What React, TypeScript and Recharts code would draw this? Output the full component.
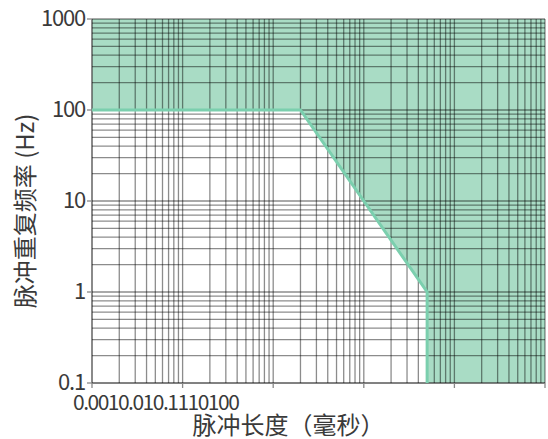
import React from 'react';
import { ComposedChart, Area, Line, XAxis, YAxis, CartesianGrid } from 'recharts';

// decade ticks and their labels
const xMajor = [0.001, 0.01, 0.1, 1, 10, 100];
const xTickLabels = ['0.001', '0.01', '0.1', '1', '10', '100'];
const yMajor = [0.1, 1, 10, 100, 1000];
const yTickLabels = ['0.1', '1', '10', '100', '1000'];

// boundary of the allowed (green) region
const pulseLength = [0.001, 0.2, 5, 5, 100];
const minRate = [100, 100, 1, 0.1, 0.1];
const boundary = [100, 100, 1, 0.1, null];
const maxRate = [1000, 1000, 1000, 1000, 1000];

// log grid lines: 1..9 in every decade
const minorSteps = [1, 2, 3, 4, 5, 6, 7, 8, 9];
const xGrid = xMajor
  .flatMap(d => minorSteps.map(m => +(m * d).toPrecision(3)))
  .filter(v => v <= 100);
const yGrid = yMajor
  .flatMap(d => minorSteps.map(m => +(m * d).toPrecision(3)))
  .filter(v => v <= 1000);

const rows = pulseLength.map((x, i) => ({
  x,
  band: [minRate[i], maxRate[i]],
  edge: boundary[i],
}));

const FONT = '"Noto Sans CJK SC", "Noto Sans", sans-serif';
const TEXT = '#3a3a3a';
const AXIS = '#888';
const TICK_SIZE = 5;
const TICK_MARGIN = 2;

const majorIndex = (list: number[], v: number) => list.findIndex(m => Math.abs(m - v) / m < 1e-6);

const XTick = (props: any) => {
  const { x, y, payload } = props;
  const i = majorIndex(xMajor, payload.value);
  if (i < 0) return null;
  const axisY = y - TICK_SIZE - TICK_MARGIN;
  return (
    <g>
      <line x1={x} x2={x} y1={axisY} y2={axisY + TICK_SIZE} stroke={AXIS} strokeWidth={1.3} />
      {i === 0 && (
        <text
          x={x - 19}
          y={y}
          dy={20}
          textAnchor="start"
          fill={TEXT}
          fontSize={21}
          letterSpacing={-1.5}
          fontFamily={FONT}
        >
          {xTickLabels.join('')}
        </text>
      )}
    </g>
  );
};

const YTick = (props: any) => {
  const { x, y, payload } = props;
  const i = majorIndex(yMajor, payload.value);
  if (i < 0) return null;
  const axisX = x + TICK_SIZE + TICK_MARGIN;
  return (
    <g>
      <line x1={axisX - TICK_SIZE} x2={axisX} y1={y} y2={y} stroke={AXIS} strokeWidth={1.3} />
      <text
        x={x}
        y={y}
        dy="0.3em"
        textAnchor="end"
        fill={TEXT}
        fontSize={22}
        letterSpacing={-1.2}
        fontFamily={FONT}
      >
        {yTickLabels[i]}
      </text>
    </g>
  );
};

const YTitle = (props: any) => {
  const { viewBox } = props;
  const cy = viewBox.y + viewBox.height / 2 + 10;
  const cx = 23;
  return (
    <text
      x={cx}
      y={cy}
      transform={`rotate(-90 ${cx} ${cy})`}
      textAnchor="middle"
      dominantBaseline="central"
      fill={TEXT}
      fontSize={24}
      fontFamily={FONT}
    >
      脉冲重复频率 (Hz)
    </text>
  );
};

const XTitle = (props: any) => {
  const { viewBox } = props;
  const cx = viewBox.x + viewBox.width / 2 - 30;
  return (
    <text x={cx} y={434} textAnchor="middle" fill={TEXT} fontSize={24} fontFamily={FONT}>
      脉冲长度（毫秒）
    </text>
  );
};

export default function App() {
  return (
    <div style={{ position: 'fixed', left: 0, top: 0, background: '#fff', fontFamily: FONT }}>
      <ComposedChart width={548} height={439} data={rows} margin={{ top: 19, right: 3, bottom: 0, left: 0 }}>
        <XAxis
          type="number"
          dataKey="x"
          scale="log"
          domain={[0.001, 100]}
          ticks={xGrid}
          allowDataOverflow
          height={56}
          tickSize={TICK_SIZE}
          tickMargin={TICK_MARGIN}
          tickLine={false}
          stroke={AXIS}
          tick={<XTick />}
          interval={0}
          label={<XTitle />}
        />
        <YAxis
          type="number"
          scale="log"
          domain={[0.1, 1000]}
          ticks={yGrid}
          allowDataOverflow
          width={92}
          tickSize={TICK_SIZE}
          tickMargin={TICK_MARGIN}
          tickLine={false}
          stroke={AXIS}
          tick={<YTick />}
          interval={0}
          label={<YTitle />}
        />

        <Area
          type="linear"
          dataKey="band"
          stroke="none"
          fill="#a9dcc5"
          fillOpacity={1}
          isAnimationActive={false}
        />
        {/* grid sits above the green fill, translucent so it darkens it */}
        <CartesianGrid stroke="#000" strokeOpacity={0.45} strokeWidth={1.3} zIndex={500} />
        <Line
          type="linear"
          dataKey="edge"
          stroke="#7bcfae"
          strokeWidth={3}
          dot={false}
          connectNulls={false}
          isAnimationActive={false}
          zIndex={600}
        />
      </ComposedChart>
    </div>
  );
}
